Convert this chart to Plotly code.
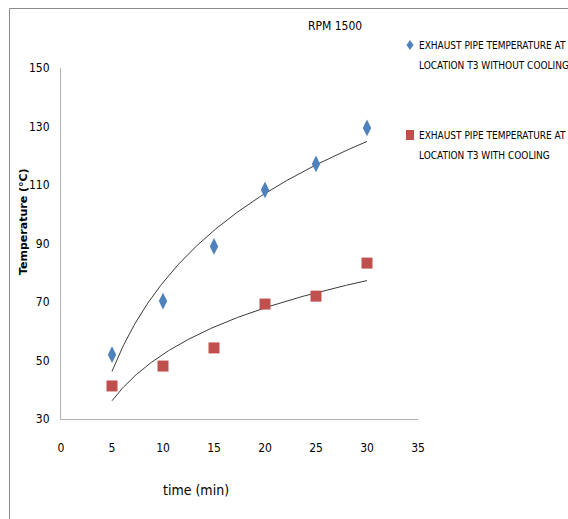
import numpy as np
import plotly.graph_objects as go

time_min = [5, 10, 15, 20, 25, 30]
temp_without_cooling = [52, 70.3, 89, 108.3, 117.2, 129.5]
temp_with_cooling = [41.3, 48.1, 54.3, 69.3, 72, 83.3]

x_ticks = [0, 5, 10, 15, 20, 25, 30, 35]
y_ticks = [30, 50, 70, 90, 110, 130, 150]

title_text = "RPM 1500"
legend_1 = ["EXHAUST PIPE TEMPERATURE AT", "LOCATION T3 WITHOUT COOLING"]
legend_2 = ["EXHAUST PIPE TEMPERATURE AT", "LOCATION T3 WITH COOLING"]

BLUE = "#4F81BD"
RED = "#C0504D"
FONT = "DejaVu Sans Condensed, Liberation Sans Narrow, Arial Narrow, Liberation Sans, sans-serif"

def log_trend(xs, ys):
    a, b = np.polyfit(np.log(xs), ys, 1)
    xx = np.linspace(min(xs), max(xs), 200)
    return xx, a * np.log(xx) + b

fig = go.Figure()
tx, ty = log_trend(time_min, temp_without_cooling)
fig.add_trace(go.Scatter(x=tx, y=ty, mode="lines", line=dict(color="#3a3a3a", width=1), hoverinfo="skip"))
tx2, ty2 = log_trend(time_min, temp_with_cooling)
fig.add_trace(go.Scatter(x=tx2, y=ty2, mode="lines", line=dict(color="#3a3a3a", width=1), hoverinfo="skip"))

fig.add_trace(go.Scatter(x=time_min, y=temp_without_cooling, mode="markers",
                         marker=dict(symbol="diamond-tall", size=12, color=BLUE)))
fig.add_trace(go.Scatter(x=time_min, y=temp_with_cooling, mode="markers",
                         marker=dict(symbol="square", size=11, color=RED)))

L, R, T, B = 61, 418, 68, 419
W, H = 568, 519
pw, ph = R - L, B - T

def px(xp):
    return (xp - L) / pw

def py(yp):
    return (B - yp) / ph

annotations = [
    dict(text=title_text, x=px(335), y=py(26)),
    dict(text="<b>Temperature (°C)</b>", x=px(24), y=py(222), textangle=-90,
         font=dict(family="DejaVu Sans, Verdana, sans-serif", size=11, color="#000")),
    dict(text="time (min)", x=px(196), y=py(490),
         font=dict(family=FONT, size=14, color="#000")),
]
for i, line in enumerate(legend_1):
    annotations.append(dict(text=line, x=px(417), y=py(45 + 20 * i), xanchor="left",
                            font=dict(family=FONT, size=10, color="#000")))
for i, line in enumerate(legend_2):
    annotations.append(dict(text=line, x=px(417), y=py(135 + 20 * i), xanchor="left",
                            font=dict(family=FONT, size=10, color="#000")))
for a in annotations:
    a.setdefault("xanchor", "center")
    a.setdefault("yanchor", "middle")
    a.setdefault("font", dict(family=FONT, size=12, color="#000"))
    a.update(xref="paper", yref="paper", showarrow=False)

shapes = [
    dict(type="rect", xref="paper", yref="paper", x0=px(9.5), x1=px(700), y0=py(700), y1=py(8.5),
         line=dict(color="#8c8c8c", width=1), fillcolor="rgba(0,0,0,0)", layer="below"),
    dict(type="path", xref="paper", yref="paper", xsizemode="pixel", ysizemode="pixel",
         xanchor=px(410), yanchor=py(45), path="M 0 5 L 3.5 0 L 0 -5 L -3.5 0 Z",
         fillcolor=BLUE, line=dict(width=0)),
    dict(type="rect", xref="paper", yref="paper", xsizemode="pixel", ysizemode="pixel",
         xanchor=px(410), yanchor=py(135), x0=-4, x1=4, y0=-5, y1=5,
         fillcolor=RED, line=dict(width=0)),
]

fig.update_layout(
    width=W, height=H,
    margin=dict(l=L, r=W - R, t=T, b=H - B, pad=0),
    paper_bgcolor="white", plot_bgcolor="white",
    showlegend=False,
    annotations=annotations,
    shapes=shapes,
    font=dict(family=FONT, size=13, color="#000"),
)
fig.update_xaxes(range=[0, 35], tickvals=x_ticks, showgrid=False, zeroline=False,
                 showline=True, linecolor="#b3b3b3", linewidth=1, ticks="",
                 ticklabelstandoff=18, tickfont=dict(family=FONT, size=12, color="#000"))
fig.update_yaxes(range=[30, 150], tickvals=y_ticks, showgrid=False, zeroline=False,
                 showline=True, linecolor="#b3b3b3", linewidth=1, ticks="",
                 ticklabelstandoff=8, tickfont=dict(family=FONT, size=12, color="#000"))

fig.write_html("out.html", config={"displayModeBar": False},
               post_script="document.body.style.margin='0';document.body.style.overflow='hidden';")
